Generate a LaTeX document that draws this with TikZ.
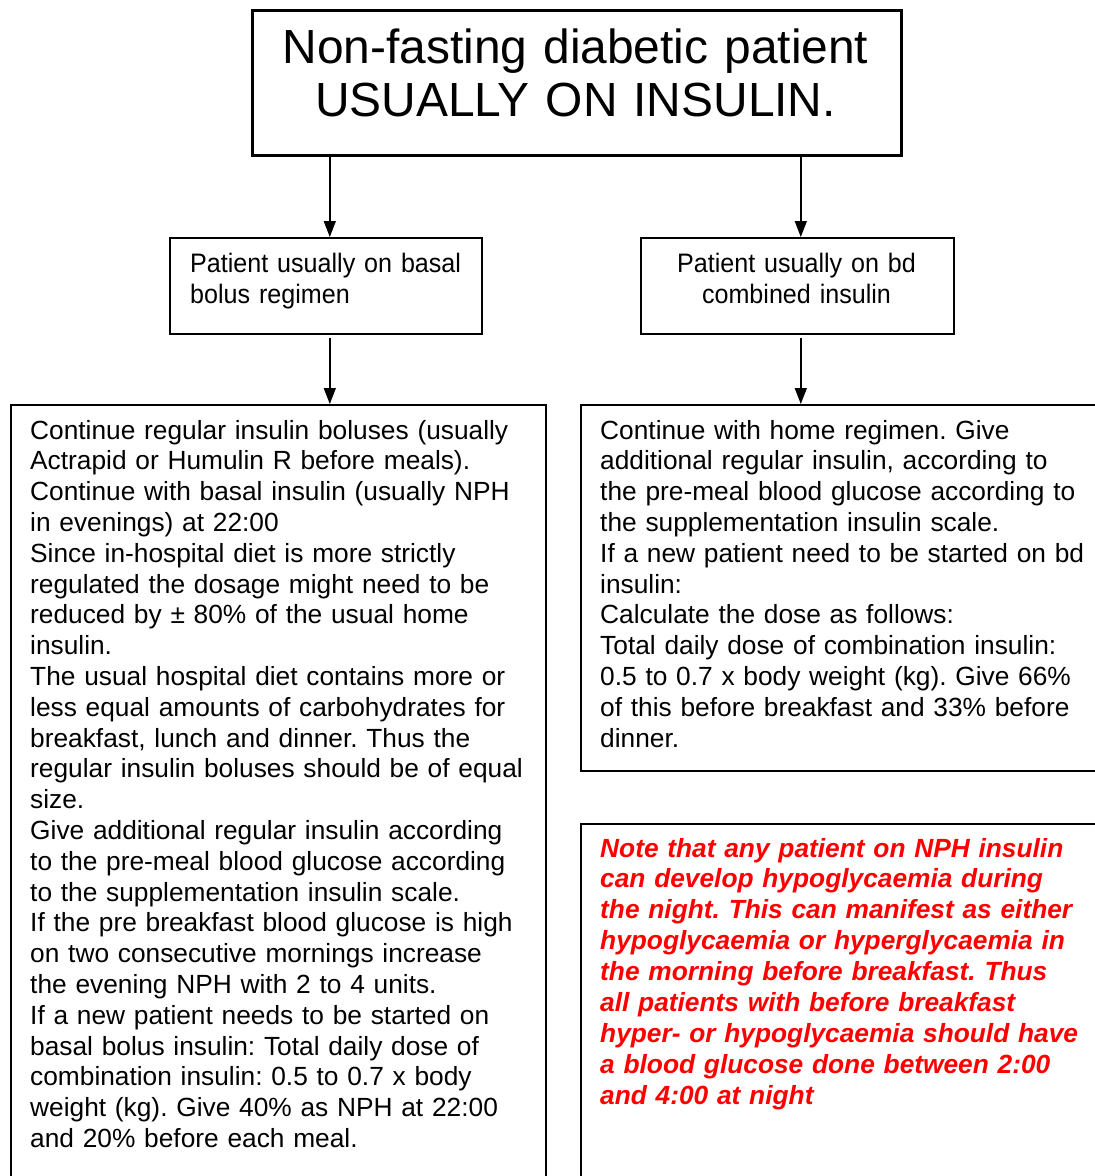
\documentclass[tikz,border=0pt]{standalone}
\usepackage{fontspec}
\setmainfont{Liberation Sans}
\newfontfamily\condsans[FakeStretch=0.94]{Liberation Sans}
\usetikzlibrary{arrows.meta,positioning,calc}
\definecolor{notered}{RGB}{255,0,0}
\frenchspacing
\tikzset{
  headbox/.style={rectangle, draw=black, line width=3.3pt, minimum width=649pt,
    minimum height=145pt, inner sep=0pt, anchor=north west},
  optbox/.style={rectangle, draw=black, line width=1.6pt, minimum width=312pt,
    minimum height=96pt, inner sep=0pt, anchor=north west},
  planbox/.style={rectangle, draw=black, line width=1.6pt, inner sep=0pt, anchor=north west},
  headtxt/.style={inner sep=0pt, anchor=base, align=center, text width=649pt,
    font=\fontsize{47.9}{53}\selectfont},
  opttxt/.style={inner sep=0pt, anchor=base west, align=left, text width=300pt,
    font=\condsans\fontsize{26.7}{31}\selectfont},
  bodytxt/.style={inner sep=0pt, anchor=base west, align=left, text width=520pt,
    font=\fontsize{26.3}{30.8}\selectfont},
  notetxt/.style={bodytxt, text=notered, font=\fontsize{26.3}{30.9}\selectfont\bfseries\itshape},
  flow/.style={-{Triangle[length=16pt, width=12pt]}, line width=1.5pt, draw=black},
}
\begin{document}
\begin{tikzpicture}[x=1pt, y=-1pt]
  \useasboundingbox (0,0) rectangle (1095,1176);
  \clip (0,0) rectangle (1095,1176);
  % boxes
  \node[headbox] (head) at (251,9) {};
  \node[optbox] (basal) at (169,237) {};
  \node[optbox, minimum width=313pt] (bd) at (640,237) {};
  \node[planbox, minimum width=535pt, minimum height=800pt] (bolus) at (10,404) {};
  \node[planbox, minimum width=560pt, minimum height=366pt] (home) at (580,404) {};
  \node[planbox, minimum width=560pt, minimum height=400pt] (night) at (580,823) {};
  % texts
  \node[headtxt] (headlabel) at (575.5,63) {Non-fasting diabetic patient\\USUALLY ON INSULIN.};
  \node[opttxt] (basallabel) at (190,272) {Patient usually on basal\\bolus regimen};
  \node[opttxt, anchor=base, align=center, text width=313pt] (bdlabel) at (796.5,272)
    {Patient usually on bd\\combined insulin};
  \node[bodytxt] (boluslabel) at (30,439) {Continue regular insulin boluses (usually\\
    Actrapid or Humulin R before meals).\\
    Continue with basal insulin (usually NPH\\
    in evenings) at 22:00\\
    Since in-hospital diet is more strictly\\
    regulated the dosage might need to be\\
    reduced by ± 80\% of the usual home\\
    insulin.\\
    The usual hospital diet contains more or\\
    less equal amounts of carbohydrates for\\
    breakfast, lunch and dinner. Thus the\\
    regular insulin boluses should be of equal\\
    size.\\
    Give additional regular insulin according\\
    to the pre-meal blood glucose according\\
    to the supplementation insulin scale.\\
    If the pre breakfast blood glucose is high\\
    on two consecutive mornings increase\\
    the evening NPH with 2 to 4 units.\\
    If a new patient needs to be started on\\
    basal bolus insulin: Total daily dose of\\
    combination insulin: 0.5 to 0.7 x body\\
    weight (kg). Give 40\% as NPH at 22:00\\
    and 20\% before each meal.};
  \node[bodytxt] (homelabel) at (600,439) {Continue with home regimen. Give\\
    additional regular insulin, according to\\
    the pre-meal blood glucose according to\\
    the supplementation insulin scale.\\
    If a new patient need to be started on bd\\
    insulin:\\
    Calculate the dose as follows:\\
    Total daily dose of combination insulin:\\
    0.5 to 0.7 x body weight (kg). Give 66\%\\
    of this before breakfast and 33\% before\\
    dinner.};
  \node[notetxt] (nightlabel) at (600,857) {Note that any patient on NPH insulin\\
    can develop hypoglycaemia during\\
    the night. This can manifest as either\\
    hypoglycaemia or hyperglycaemia in\\
    the morning before breakfast. Thus\\
    all patients with before breakfast\\
    hyper- or hypoglycaemia should have\\
    a blood glucose done between 2:00\\
    and 4:00 at night};
  % connectors
  \draw[flow] ([xshift=4pt]basal.north |- head.south) -- ([xshift=4pt]basal.north);
  \draw[flow] ([xshift=3.5pt]bd.north |- head.south) -- ([xshift=3.5pt]bd.north);
  \draw[flow] ([xshift=4pt,yshift=-3pt]basal.south) -- ([xshift=4pt]basal.south |- bolus.north);
  \draw[flow] ([xshift=3.5pt,yshift=-3pt]bd.south) -- ([xshift=3.5pt]bd.south |- home.north);
\end{tikzpicture}
\end{document}
